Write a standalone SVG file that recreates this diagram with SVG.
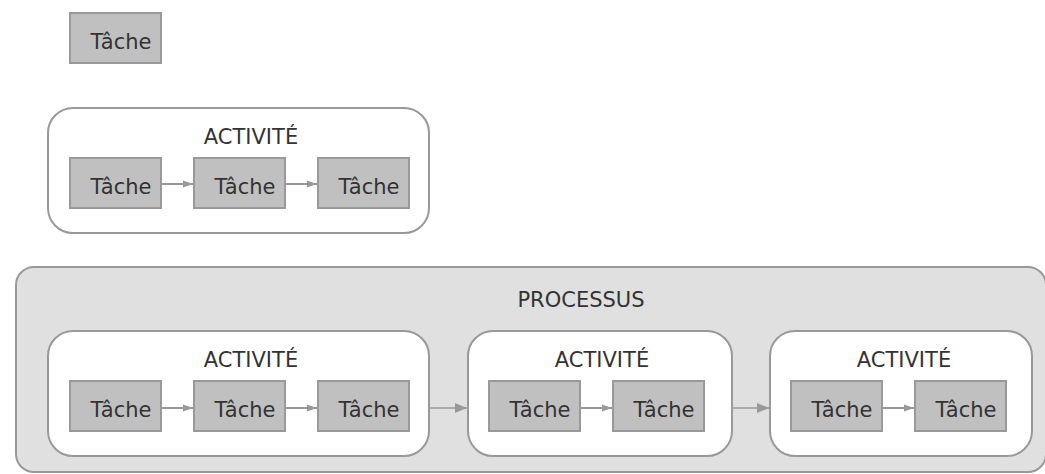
<svg xmlns="http://www.w3.org/2000/svg" width="1045" height="474" viewBox="0 0 1045 474">
<defs>
<style>
.task{fill:#c0c0c0;stroke:#999;stroke-width:2}
.act{fill:#fff;stroke:#999;stroke-width:2}
.proc{fill:#e0e0e0;stroke:#999;stroke-width:2}
text{font-family:"DejaVu Sans",sans-serif;font-size:21px;fill:#333;text-anchor:middle}
.edge{stroke:#999;stroke-width:2;fill:none}
.edge2{stroke:#999;stroke-width:1.5;fill:none}
</style>
<marker id="ah" markerUnits="userSpaceOnUse" markerWidth="10" markerHeight="8" refX="10" refY="4" orient="auto">
<path d="M0,0.5 L10,4 L0,7.5 Z" fill="#999"/>
</marker>
<marker id="ah2" markerUnits="userSpaceOnUse" markerWidth="12" markerHeight="11" refX="12" refY="5.5" orient="auto">
<path d="M0,0.5 L12,5.5 L0,10.5 Z" fill="#999"/>
</marker>
</defs>
<rect width="1045" height="474" fill="#fff"/>

<g id="tache-seule">
<rect class="task" x="70" y="13" width="91" height="50"/>
<text x="121" y="49">Tâche</text>
</g>

<g id="activite-exemple">
<rect class="act" x="48" y="108" width="381" height="125" rx="25"/>
<text x="251" y="144">ACTIVITÉ</text>
<g id="a0-t1"><rect class="task" x="70" y="158" width="91" height="50"/><text x="121" y="194">Tâche</text></g>
<g id="a0-t2"><rect class="task" x="194" y="158" width="91" height="50"/><text x="245" y="194">Tâche</text></g>
<g id="a0-t3"><rect class="task" x="318" y="158" width="91" height="50"/><text x="369" y="194">Tâche</text></g>
</g>

<g id="processus">
<rect class="proc" x="16" y="267" width="1030" height="205" rx="18"/>
<text x="581" y="307">PROCESSUS</text>
</g>

<g id="activite-1">
<rect class="act" x="48" y="331" width="381" height="125" rx="25"/>
<text x="251" y="367">ACTIVITÉ</text>
<g id="a1-t1"><rect class="task" x="70" y="381" width="91" height="50"/><text x="121" y="417">Tâche</text></g>
<g id="a1-t2"><rect class="task" x="194" y="381" width="91" height="50"/><text x="245" y="417">Tâche</text></g>
<g id="a1-t3"><rect class="task" x="318" y="381" width="91" height="50"/><text x="369" y="417">Tâche</text></g>
</g>

<g id="activite-2">
<rect class="act" x="468" y="331" width="264" height="125" rx="25"/>
<text x="602" y="367">ACTIVITÉ</text>
<g id="a2-t1"><rect class="task" x="489" y="381" width="91" height="50"/><text x="540" y="417">Tâche</text></g>
<g id="a2-t2"><rect class="task" x="613" y="381" width="91" height="50"/><text x="664" y="417">Tâche</text></g>
</g>

<g id="activite-3">
<rect class="act" x="770" y="331" width="262" height="125" rx="25"/>
<text x="904" y="367">ACTIVITÉ</text>
<g id="a3-t1"><rect class="task" x="791" y="381" width="91" height="50"/><text x="842" y="417">Tâche</text></g>
<g id="a3-t2"><rect class="task" x="915" y="381" width="91" height="50"/><text x="966" y="417">Tâche</text></g>
</g>

<g id="connecteurs">
<line class="edge" x1="162" y1="184" x2="193" y2="184" marker-end="url(#ah)"/>
<line class="edge" x1="286" y1="184" x2="317" y2="184" marker-end="url(#ah)"/>
<line class="edge" x1="162" y1="408" x2="193" y2="408" marker-end="url(#ah)"/>
<line class="edge" x1="286" y1="408" x2="317" y2="408" marker-end="url(#ah)"/>
<line class="edge" x1="581" y1="408" x2="612" y2="408" marker-end="url(#ah)"/>
<line class="edge" x1="883" y1="408" x2="914" y2="408" marker-end="url(#ah)"/>
<line class="edge2" x1="430" y1="408" x2="467" y2="408" marker-end="url(#ah2)"/>
<line class="edge2" x1="733" y1="408" x2="769" y2="408" marker-end="url(#ah2)"/>
</g>
</svg>
